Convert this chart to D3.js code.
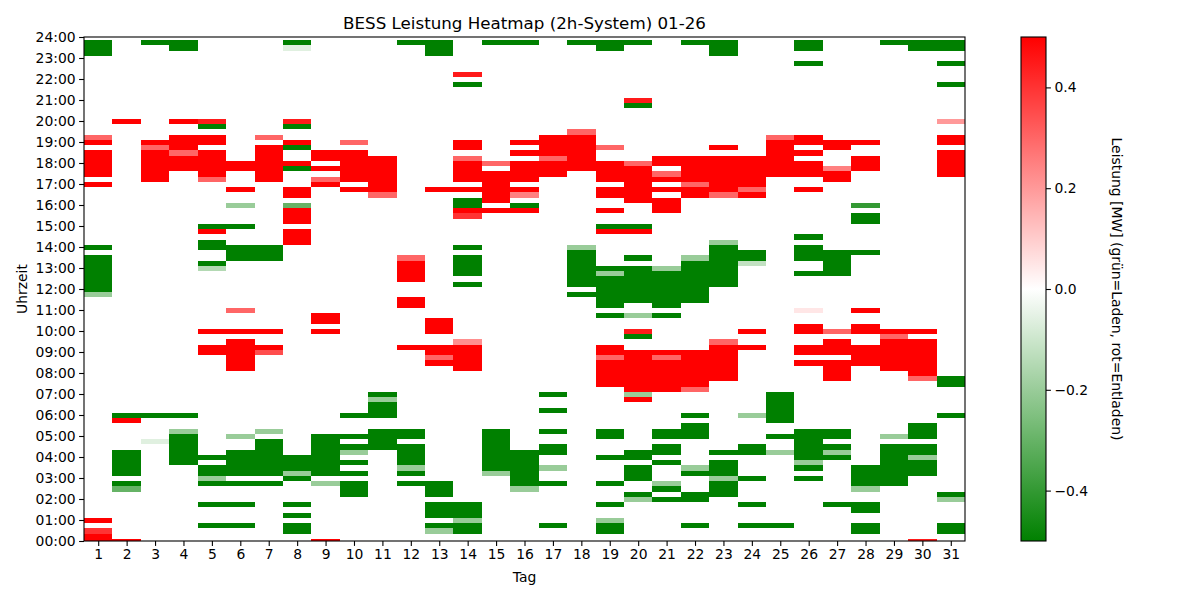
<!DOCTYPE html>
<html>
<head>
<meta charset="utf-8">
<script src="https://cdn.jsdelivr.net/npm/d3@7"></script>
<style>
  body { margin: 0; background: #ffffff; }
  text { font-family: "DejaVu Sans", sans-serif; fill: #000000; }
</style>
</head>
<body>
<div id="heatmap-container"></div>
<script>
// ---- data ----
// days of the month (x categories)
const days = [1, 2, 3, 4, 5, 6, 7, 8, 9, 10, 11, 12, 13, 14, 15, 16,
  17, 18, 19, 20, 21, 22, 23, 24, 25, 26, 27, 28, 29, 30, 31];

// y tick labels, one per hour
const hourLabels = ["00:00", "01:00", "02:00", "03:00", "04:00", "05:00",
  "06:00", "07:00", "08:00", "09:00", "10:00", "11:00", "12:00", "13:00",
  "14:00", "15:00", "16:00", "17:00", "18:00", "19:00", "20:00", "21:00",
  "22:00", "23:00", "24:00"];

const colorbarTicks = [-0.4, -0.2, 0.0, 0.2, 0.4];

// power per quarter hour, as runs: [first slot, last slot, MW]
// slots not listed are 0 (idle)
const day01 = [["00:00","00:15",0.5],["00:30","00:30",0.4],["01:00","01:00",0.5],["11:45","11:45",-0.2],["12:00","13:30",-0.5],["14:00","14:00",-0.5],["17:00","17:00",0.5],["17:30","18:30",0.5],["19:00","19:00",0.5],["19:15","19:15",0.3],["23:15","23:45",-0.5]];
const day02 = [["00:00","00:00",0.5],["02:30","02:30",-0.3],["02:45","02:45",-0.5],["03:15","04:15",-0.5],["05:45","05:45",0.5],["06:00","06:00",-0.5],["20:00","20:00",0.5]];
const day03 = [["04:45","04:45",-0.06],["06:00","06:00",-0.5],["17:15","18:30",0.5],["18:45","18:45",0.3],["19:00","19:00",0.5],["23:45","23:45",-0.5]];
const day04 = [["03:45","05:00",-0.5],["05:15","05:15",-0.2],["06:00","06:00",-0.5],["17:45","18:15",0.5],["18:30","18:30",0.3],["18:45","19:15",0.5],["20:00","20:00",0.5],["23:30","23:45",-0.5]];
const day05 = [["00:45","00:45",-0.5],["01:45","01:45",-0.5],["02:45","02:45",-0.5],["03:00","03:00",-0.2],["03:15","03:30",-0.5],["04:00","04:00",-0.5],["09:00","09:15",0.5],["10:00","10:00",0.5],["13:00","13:00",-0.15],["13:15","13:15",-0.5],["14:00","14:15",-0.5],["14:45","14:45",0.5],["15:00","15:00",-0.5],["17:15","17:15",0.3],["17:30","18:30",0.5],["19:00","19:15",0.5],["19:45","19:45",-0.5],["20:00","20:00",0.45]];
const day06 = [["00:45","00:45",-0.5],["01:45","01:45",-0.5],["02:45","02:45",-0.5],["03:15","04:15",-0.5],["05:00","05:00",-0.2],["08:15","09:30",0.5],["10:00","10:00",0.5],["11:00","11:00",0.3],["13:30","14:00",-0.5],["15:00","15:00",-0.5],["16:00","16:00",-0.2],["16:45","16:45",0.5],["17:45","18:00",0.5]];
const day07 = [["02:45","02:45",-0.5],["03:15","04:45",-0.5],["05:15","05:15",-0.2],["09:00","09:00",0.35],["09:15","09:15",0.5],["10:00","10:00",0.5],["13:30","14:00",-0.5],["17:15","18:45",0.5],["19:15","19:15",0.3]];
const day08 = [["00:30","00:45",-0.5],["01:15","01:15",-0.5],["01:45","01:45",-0.5],["03:00","03:00",-0.5],["03:15","03:15",-0.2],["03:30","04:00",-0.5],["14:15","14:45",0.5],["15:15","15:45",0.5],["16:00","16:00",-0.3],["16:30","16:45",0.5],["17:45","17:45",-0.5],["18:00","18:00",0.5],["18:45","18:45",-0.5],["19:00","19:00",0.5],["19:45","19:45",-0.5],["20:00","20:00",0.45],["23:30","23:30",-0.06],["23:45","23:45",-0.5]];
const day09 = [["00:00","00:00",0.5],["02:45","02:45",-0.2],["03:15","05:00",-0.5],["10:00","10:00",0.5],["10:30","10:45",0.5],["17:00","17:00",0.5],["17:15","17:15",0.3],["17:45","17:45",0.5],["18:15","18:30",0.5]];
const day10 = [["02:15","02:45",-0.5],["03:15","03:15",-0.5],["03:45","03:45",-0.5],["04:15","04:15",-0.2],["04:30","04:30",-0.5],["05:00","05:00",-0.5],["06:00","06:00",-0.5],["16:45","16:45",0.5],["17:15","18:30",0.5],["19:00","19:00",0.3]];
const day11 = [["04:30","05:15",-0.5],["06:00","06:30",-0.5],["06:45","06:45",-0.2],["07:00","07:00",-0.5],["16:30","16:30",0.3],["16:45","18:15",0.5]];
const day12 = [["02:45","02:45",-0.5],["03:15","03:15",-0.5],["03:30","03:30",-0.2],["03:45","04:30",-0.5],["05:00","05:15",-0.5],["09:15","09:15",0.5],["11:15","11:30",0.5],["12:30","13:15",0.5],["13:30","13:30",0.3],["23:45","23:45",-0.5]];
const day13 = [["00:30","00:30",-0.2],["00:45","00:45",-0.5],["01:15","01:45",-0.5],["02:15","02:45",-0.5],["08:30","08:30",0.5],["08:45","08:45",0.3],["09:00","09:15",0.5],["10:00","10:30",0.5],["16:45","16:45",0.5],["23:15","23:45",-0.5]];
const day14 = [["00:30","00:45",-0.5],["01:00","01:00",-0.2],["01:15","01:45",-0.5],["08:15","09:15",0.5],["09:30","09:30",0.22],["12:15","12:15",-0.5],["12:45","13:30",-0.5],["14:00","14:00",-0.5],["15:30","15:30",0.4],["15:45","15:45",0.5],["16:00","16:15",-0.5],["16:45","16:45",0.5],["17:15","18:00",0.5],["18:15","18:15",0.3],["18:45","19:00",0.5],["21:45","21:45",-0.5],["22:15","22:15",0.45]];
const day15 = [["03:15","03:15",-0.2],["03:30","05:15",-0.5],["15:45","15:45",0.5],["16:15","17:30",0.5],["18:00","18:00",0.3],["23:45","23:45",-0.5]];
const day16 = [["02:30","02:30",-0.2],["02:45","04:15",-0.5],["15:45","15:45",0.5],["16:00","16:00",-0.5],["16:30","16:30",0.25],["16:45","16:45",0.5],["17:15","18:00",0.5],["18:30","18:30",0.5],["19:00","19:00",0.5],["23:45","23:45",-0.5]];
const day17 = [["00:45","00:45",-0.5],["02:45","02:45",-0.5],["03:30","03:30",-0.2],["04:15","04:30",-0.5],["05:15","05:15",-0.5],["06:15","06:15",-0.5],["07:00","07:00",-0.5],["17:30","18:00",0.5],["18:15","18:15",0.3],["18:30","19:15",0.5]];
const day18 = [["11:45","11:45",-0.5],["12:15","13:45",-0.5],["14:00","14:00",-0.2],["17:45","19:15",0.5],["19:30","19:30",0.3],["23:45","23:45",-0.5]];
const day19 = [["00:30","00:45",-0.5],["01:00","01:00",-0.2],["01:45","01:45",-0.5],["02:45","02:45",-0.5],["04:00","04:00",-0.5],["05:00","05:15",-0.5],["07:30","08:30",0.5],["08:45","08:45",0.3],["09:00","09:15",0.5],["10:45","10:45",-0.5],["11:15","12:30",-0.5],["12:45","12:45",-0.2],["13:00","13:00",-0.5],["14:45","14:45",0.5],["15:00","15:00",-0.5],["15:45","15:45",0.5],["16:30","16:45",0.5],["17:15","18:00",0.5],["18:45","18:45",0.3],["23:30","23:45",-0.5]];
const day20 = [["02:00","02:00",-0.2],["02:15","02:15",-0.5],["03:00","03:30",-0.5],["04:00","04:15",-0.5],["06:45","06:45",0.5],["07:00","07:00",-0.2],["07:15","09:00",0.5],["09:45","09:45",-0.5],["10:00","10:00",0.45],["10:45","10:45",-0.2],["11:30","13:00",-0.5],["13:30","13:30",-0.5],["14:45","14:45",0.5],["15:00","15:00",-0.5],["16:15","17:45",0.5],["18:00","18:00",0.3],["20:45","20:45",-0.5],["21:00","21:00",0.45],["23:45","23:45",-0.5]];
const day21 = [["02:00","02:00",-0.5],["02:30","02:30",-0.5],["02:45","02:45",-0.2],["03:45","03:45",-0.5],["04:15","04:30",-0.5],["05:00","05:15",-0.5],["07:15","08:30",0.5],["08:45","08:45",0.3],["09:00","09:00",0.5],["10:45","10:45",-0.5],["11:15","12:45",-0.5],["13:00","13:00",-0.2],["15:45","16:15",0.5],["16:45","16:45",0.5],["17:15","17:15",0.5],["17:30","17:30",0.3],["18:00","18:15",0.5]];
const day22 = [["00:45","00:45",-0.5],["02:00","02:15",-0.5],["03:15","03:15",-0.5],["03:30","03:30",-0.2],["05:00","05:30",-0.5],["06:00","06:00",-0.5],["07:15","07:15",0.3],["07:30","09:00",0.5],["11:30","13:15",-0.5],["13:30","13:30",-0.2],["16:30","16:45",0.5],["17:00","17:00",0.3],["17:15","18:15",0.5],["23:45","23:45",-0.5]];
const day23 = [["02:15","02:45",-0.5],["03:00","03:00",-0.2],["03:15","03:45",-0.5],["04:15","04:15",-0.5],["07:45","09:15",0.5],["09:30","09:30",0.3],["12:15","14:00",-0.5],["14:15","14:15",-0.2],["16:30","16:30",0.3],["16:45","18:15",0.5],["18:45","18:45",0.5],["23:15","23:45",-0.5]];
const day24 = [["00:45","00:45",-0.5],["01:45","01:45",-0.5],["03:00","03:00",-0.5],["04:15","04:30",-0.5],["06:00","06:00",-0.2],["09:15","09:15",0.5],["10:00","10:00",0.5],["13:15","13:15",-0.12],["13:30","13:45",-0.5],["16:30","16:30",0.5],["16:45","16:45",0.3],["17:00","18:15",0.5]];
const day25 = [["00:45","00:45",-0.5],["04:15","04:15",-0.2],["05:00","05:00",-0.5],["05:45","07:00",-0.5],["17:30","19:00",0.5],["19:15","19:15",0.3]];
const day26 = [["03:00","03:00",-0.5],["03:30","03:30",-0.5],["03:45","03:45",-0.2],["04:00","05:15",-0.5],["08:30","08:30",0.5],["09:00","09:15",0.5],["10:00","10:15",0.5],["11:00","11:00",0.05],["12:45","12:45",-0.5],["13:30","14:00",-0.5],["14:30","14:30",-0.5],["16:45","16:45",0.5],["17:30","18:00",0.5],["18:30","18:30",0.5],["19:00","19:15",0.5],["22:45","22:45",-0.5],["23:30","23:45",-0.5]];
const day27 = [["01:45","01:45",-0.5],["04:00","04:00",-0.5],["04:15","04:15",-0.2],["04:30","04:30",-0.5],["05:00","05:15",-0.5],["07:45","08:30",0.5],["09:00","09:30",0.5],["10:00","10:00",0.3],["12:45","13:45",-0.5],["17:15","17:30",0.5],["17:45","17:45",0.25],["18:45","19:00",0.5]];
const day28 = [["00:30","00:45",-0.5],["01:30","01:45",-0.5],["02:30","02:30",-0.2],["02:45","03:30",-0.5],["08:30","09:15",0.5],["10:00","10:15",0.5],["11:00","11:00",0.5],["13:45","13:45",-0.5],["15:15","15:30",-0.5],["16:00","16:00",-0.4],["17:45","18:15",0.5],["19:00","19:00",0.5]];
const day29 = [["02:45","04:30",-0.5],["05:00","05:00",-0.2],["08:15","09:30",0.5],["09:45","09:45",0.3],["10:00","10:00",0.5],["23:45","23:45",-0.5]];
const day30 = [["00:00","00:00",0.45],["03:15","03:45",-0.5],["04:00","04:00",-0.2],["04:15","04:30",-0.5],["05:00","05:30",-0.5],["07:45","07:45",0.3],["08:00","09:30",0.5],["10:00","10:00",0.5],["23:30","23:45",-0.5]];
const day31 = [["00:30","00:45",-0.5],["02:00","02:00",-0.2],["02:15","02:15",-0.5],["06:00","06:00",-0.5],["07:30","07:45",-0.5],["17:30","18:30",0.5],["19:00","19:15",0.5],["20:00","20:00",0.2],["21:45","21:45",-0.5],["22:45","22:45",-0.5],["23:30","23:45",-0.5]];

const dayRuns = [day01, day02, day03, day04, day05, day06, day07, day08,
  day09, day10, day11, day12, day13, day14, day15, day16, day17, day18,
  day19, day20, day21, day22, day23, day24, day25, day26, day27, day28,
  day29, day30, day31];

const SLOTS = 96; // quarter hours per day

function slotOf(t) {
  const [h, m] = t.split(":").map(Number);
  return (h * 60 + m) / 15;
}

// build the day x slot table
const cells = [];
days.forEach((day, i) => {
  const col = new Array(SLOTS).fill(0);
  dayRuns[i].forEach(([from, to, v]) => {
    for (let s = slotOf(from); s <= slotOf(to); s++) col[s] = v;
  });
  col.forEach((v, s) => cells.push({ day: day, slot: s, value: v }));
});

// ---- layout ----
const width = 1200;
const height = 600;
const plot = { left: 84, right: 965, top: 37, bottom: 541 };
const cbar = { left: 1021, right: 1046, top: 37, bottom: 541 };
const tickLen = 4.9;
const tickFont = "13.9px";

const svg = d3
  .select("#heatmap-container")
  .append("svg")
  .attr("width", width)
  .attr("height", height);

const x = d3.scaleLinear().domain([0.5, 31.5]).range([plot.left, plot.right]);
const y = d3.scaleLinear().domain([0, 24]).range([plot.bottom, plot.top]);

const color = d3
  .scaleLinear()
  .domain([-0.5, 0, 0.5])
  .range(["green", "white", "red"])
  .clamp(true);

svg
  .append("clipPath")
  .attr("id", "plot-clip")
  .append("rect")
  .attr("x", plot.left)
  .attr("y", plot.top)
  .attr("width", plot.right - plot.left)
  .attr("height", plot.bottom - plot.top);

// cells are centred on the quarter hour
const half = 0.125;
svg
  .append("g")
  .attr("clip-path", "url(#plot-clip)")
  .attr("shape-rendering", "crispEdges")
  .selectAll("rect")
  .data(cells)
  .enter()
  .append("rect")
  .attr("x", (d) => x(d.day - 0.5))
  .attr("width", (d) => x(d.day + 0.5) - x(d.day - 0.5) + 0.5)
  .attr("y", (d) => y(d.slot / 4 + half))
  .attr("height", (d) => y(d.slot / 4 - half) - y(d.slot / 4 + half) + 0.5)
  .attr("fill", (d) => color(d.value));

// axes
const xAxis = d3
  .axisBottom(x)
  .tickValues(days)
  .tickSize(tickLen)
  .tickPadding(3.5)
  .tickSizeOuter(0);

const yAxis = d3
  .axisLeft(y)
  .tickValues(d3.range(hourLabels.length))
  .tickFormat((d) => hourLabels[d])
  .tickSize(tickLen)
  .tickPadding(3.5)
  .tickSizeOuter(0);

const gx = svg
  .append("g")
  .attr("transform", `translate(0, ${plot.bottom})`)
  .call(xAxis);
const gy = svg
  .append("g")
  .attr("transform", `translate(${plot.left}, 0)`)
  .call(yAxis);

[gx, gy].forEach((g) => {
  g.select(".domain").remove();
  g.selectAll(".tick line").attr("stroke", "#000").attr("stroke-width", 1.1);
  g.selectAll(".tick text")
    .style("font-family", "DejaVu Sans")
    .style("font-size", tickFont)
    .attr("fill", "#000");
});

// frame
svg
  .append("rect")
  .attr("x", plot.left)
  .attr("y", plot.top)
  .attr("width", plot.right - plot.left)
  .attr("height", plot.bottom - plot.top)
  .attr("fill", "none")
  .attr("stroke", "#000")
  .attr("stroke-width", 1.1);

// titles
svg
  .append("text")
  .attr("x", (plot.left + plot.right) / 2)
  .attr("y", 29)
  .attr("text-anchor", "middle")
  .style("font-size", "16.7px")
  .text("BESS Leistung Heatmap (2h-System) 01-26");

svg
  .append("text")
  .attr("x", (plot.left + plot.right) / 2)
  .attr("y", 582)
  .attr("text-anchor", "middle")
  .style("font-size", tickFont)
  .text("Tag");

svg
  .append("text")
  .attr("transform", `translate(27, ${(plot.top + plot.bottom) / 2}) rotate(-90)`)
  .attr("text-anchor", "middle")
  .style("font-size", tickFont)
  .text("Uhrzeit");

// ---- colorbar ----
const cy = d3.scaleLinear().domain([-0.5, 0.5]).range([cbar.bottom, cbar.top]);

const grad = svg
  .append("defs")
  .append("linearGradient")
  .attr("id", "cbar-grad")
  .attr("x1", 0)
  .attr("y1", 1)
  .attr("x2", 0)
  .attr("y2", 0);

grad
  .selectAll("stop")
  .data(d3.range(0, 1.0001, 0.05))
  .enter()
  .append("stop")
  .attr("offset", (t) => t)
  .attr("stop-color", (t) => color(-0.5 + t));

svg
  .append("rect")
  .attr("x", cbar.left)
  .attr("y", cbar.top)
  .attr("width", cbar.right - cbar.left)
  .attr("height", cbar.bottom - cbar.top)
  .attr("fill", "url(#cbar-grad)")
  .attr("stroke", "#000")
  .attr("stroke-width", 1.1);

const cAxis = d3
  .axisRight(cy)
  .tickValues(colorbarTicks)
  .tickFormat((d) => d3.format(".1f")(d).replace("-", "\u2212"))
  .tickSize(tickLen)
  .tickPadding(3.5)
  .tickSizeOuter(0);

const gc = svg
  .append("g")
  .attr("transform", `translate(${cbar.right}, 0)`)
  .call(cAxis);
gc.select(".domain").remove();
gc.selectAll(".tick line").attr("stroke", "#000").attr("stroke-width", 1.1);
gc.selectAll(".tick text")
  .style("font-family", "DejaVu Sans")
  .style("font-size", tickFont)
  .attr("fill", "#000");

svg
  .append("text")
  .attr("transform", `translate(1112, ${(cbar.top + cbar.bottom) / 2}) rotate(90)`)
  .attr("text-anchor", "middle")
  .style("font-size", tickFont)
  .text("Leistung [MW] (grün=Laden, rot=Entladen)");
</script>
</body>
</html>
